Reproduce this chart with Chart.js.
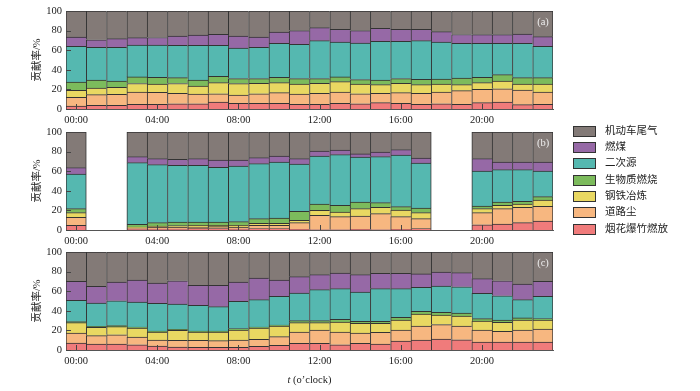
<!DOCTYPE html>
<html><head><meta charset="utf-8">
<script src="https://cdn.jsdelivr.net/npm/chart.js@4.4.1/dist/chart.umd.min.js"></script>
<style>
html,body{margin:0;padding:0;background:#fff;}
body{width:700px;height:391px;position:relative;overflow:hidden;}
.pane{position:absolute;left:0;width:700px;}
#legend{position:absolute;left:0;top:0;font-family:"Liberation Serif","Noto Sans CJK SC";font-size:10.5px;color:#222;}
.item{position:absolute;left:573px;height:12px;white-space:nowrap;}
.sw{position:absolute;left:0;top:0;width:21px;height:9px;border:1px solid #333;}
.lb{position:absolute;left:32px;top:-2px;line-height:14px;}
</style></head>
<body>
<div class="pane" style="top:0;height:135px"><canvas id="ca" width="700" height="135"></canvas></div>
<div class="pane" style="top:121px;height:135px"><canvas id="cb" width="700" height="135"></canvas></div>
<div class="pane" style="top:241px;height:150px"><canvas id="cc" width="700" height="150"></canvas></div>
<div id="legend"></div>
<script>
const hours = ["00:00","01:00","02:00","03:00","04:00","05:00","06:00","07:00","08:00","09:00","10:00","11:00",
  "12:00","13:00","14:00","15:00","16:00","17:00","18:00","19:00","20:00","21:00","22:00","23:00"];
const seriesNames = ["机动车尾气","燃煤","二次源","生物质燃烧","钢铁冶炼","道路尘","烟花爆竹燃放"];
const seriesColors = ["#837a77","#9669a6","#55b8b0","#7cbb5c","#e9d862","#f7b780","#f07b7b"];
const panelTags = ["(a)","(b)","(c)"];
const yTitle = "贡献率/%";
const xTitleItalic = "t";
const xTitleRest = " (o’clock)";

// Panel (a)
const a_fireworks = [3,3.7,3.7,4.8,4.8,5.4,5.4,7.1,5.8,5.8,5.8,4.8,4.8,5.8,5.4,6.5,5.8,4.8,5.4,4.8,6.5,7.1,4.4,4.8];
const a_roadDust  = [9.0,10.9,11.3,12.5,12.2,10.6,9.9,8.5,8.5,9.8,10.9,10.5,11.2,11.5,10.2,9.5,10.9,11.2,11.9,13.9,13.5,13.6,15.0,12.5];
const a_steel     = [7.0,6.8,7.0,8.7,8.5,10.0,8.2,11.3,11.6,10.6,10.2,10.2,10.2,10.6,9.9,8.8,9.5,8.8,8.2,6.1,6.9,7.9,6.1,8.2];
const a_biomass   = [8.5,8.2,6.6,6.7,6.8,6.0,6.1,6.4,5.1,4.8,5.4,5.5,4.8,4.8,4.5,4.8,4.8,5.5,5.1,6.8,5.4,6.4,6.5,6.5];
const a_secondary = [36.5,33.4,34.4,32.6,33.0,33.0,35.4,31.7,31.2,32.0,34.7,35.0,38.7,35.7,37.3,39.4,38.0,39.4,37.8,35.4,34.7,32.0,35.0,32.0];
const a_coal      = [9.5,7.7,8.8,7.5,7.7,9.5,10.5,11.2,12.3,10.5,11.6,14.0,13.3,12.9,12.7,13.3,12.3,11.6,10.5,9.0,8.9,8.9,9.5,9.8];
const a_vehicle   = [26.5,29.3,28.2,27.2,27.0,25.5,24.5,23.8,25.5,26.5,21.4,20.0,17.0,18.7,20.0,17.7,18.7,18.7,21.1,24.0,24.1,24.1,23.5,26.2];

// Panel (b)
const b_fireworks = [4.8,null,null,1.0,1.0,1.0,1.4,1.4,1.0,1.4,1.4,0.7,0.3,0.3,0.7,0.3,0.7,1.4,null,null,5.4,6.1,7.5,9.2];
const b_roadDust  = [8.1,null,null,0.7,1.7,1.7,1.6,2.0,2.0,3.4,3.4,6.8,14.7,13.3,13.6,16.4,12.9,10.2,null,null,12.3,15.7,15.6,14.9];
const b_steel     = [4.8,null,null,1.3,1.3,1.7,1.8,1.4,1.8,2.0,2.0,2.4,5.0,4.8,7.5,6.4,6.8,6.1,null,null,4.1,3.4,3.4,6.5];
const b_biomass   = [4.1,null,null,2.8,3.5,3.8,3.4,3.4,3.7,4.8,5.4,9.1,6.5,6.8,6.8,4.8,3.4,4.7,null,null,2.7,3.4,2.8,3.4];
const b_secondary = [35.2,null,null,62.9,59.2,57.8,57.8,55.8,56.8,56.1,57.2,48.3,49.0,51.7,45.9,46.9,52.7,46.0,null,null,35.7,33.0,32.3,26.2];
const b_coal      = [6.6,null,null,6.1,6.1,6.1,6.8,7.4,6.1,6.1,6.1,5.5,5.1,4.7,3.1,4.8,5.5,5.1,null,null,12.6,7.8,7.8,9.2];
const b_vehicle   = [36.4,null,null,25.2,27.2,27.9,27.2,28.6,28.6,26.2,24.5,27.2,19.4,18.4,22.4,20.4,18.0,26.5,null,null,27.2,30.6,30.6,30.6];

// Panel (c)
const c_fireworks = [7.1,6.1,6.1,5.4,4.1,3.0,2.7,2.7,2.7,3.7,4.8,6.8,6.8,5.4,6.8,6.1,9.2,10.2,11.2,10.5,8.2,8.2,8.2,8.2];
const c_roadDust  = [10.2,8.5,9.5,7.9,6.1,6.9,7.2,6.8,7.5,7.2,8.8,11.6,13.6,13.0,10.5,11.9,11.2,14.3,14.7,14.0,12.2,10.8,12.2,13.2];
const c_steel     = [10.6,8.5,8.2,9.1,8.2,10.1,8.5,8.9,10.2,11.5,10.9,9.5,7.5,10.2,9.9,9.2,10.2,12.2,9.8,10.2,9.2,9.2,10.2,9.2];
const c_biomass   = [1.0,1.0,1.0,1.1,1.0,1.0,1.0,1.0,1.4,1.1,1.0,2.0,2.0,2.7,2.1,2.1,2.7,2.8,2.7,3.0,2.4,2.4,2.1,1.4];
const c_secondary = [21.8,23.9,25.5,25.5,28.2,25.9,26.2,24.8,27.9,27.9,29.3,28.3,31.7,31.3,29.9,33.3,29.3,24.4,26.9,26.8,25.8,24.8,18.7,22.8];
const c_coal      = [19.3,17.0,19.1,22.4,20.8,23.8,20.4,21.8,19.7,22.1,16.6,16.6,15.3,16.0,17.7,15.6,15.6,13.7,14.3,14.4,15.0,15.3,15.9,15.2];
const c_vehicle   = [30.0,35.0,30.6,28.6,31.6,29.3,34.0,34.0,30.6,26.5,28.6,25.2,23.1,21.4,23.1,21.8,21.8,22.4,20.4,21.1,27.2,29.3,32.7,30.0];

const panels = [
  [a_vehicle,a_coal,a_secondary,a_biomass,a_steel,a_roadDust,a_fireworks],
  [b_vehicle,b_coal,b_secondary,b_biomass,b_steel,b_roadDust,b_fireworks],
  [c_vehicle,c_coal,c_secondary,c_biomass,c_steel,c_roadDust,c_fireworks]
];

const SERIF = '"Liberation Serif", "Noto Sans CJK SC", serif';

// legend (HTML)
const leg = document.getElementById('legend');
seriesNames.forEach((n,i)=>{
  const it = document.createElement('div');
  it.className='item';
  it.style.top = (125.7 + i*16.33) + 'px';
  it.innerHTML = '<div class="sw" style="background:'+seriesColors[i]+'"></div><div class="lb">'+n+'</div>';
  leg.appendChild(it);
});

function bw(ctx){
  const d = ctx.dataset.data, i = ctx.dataIndex;
  const last = (i === d.length-1) || d[i+1] == null;
  return {top:1,left:1,bottom:0,right:last?1:0};
}

const tickMarks = {
  id:'tickMarks',
  afterDatasetsDraw(chart, args, opts){
    const ctx = chart.ctx, xs = chart.scales.x, ys = chart.scales.y;
    ctx.save();
    ctx.strokeStyle = '#444'; ctx.lineWidth = 1;
    ctx.beginPath();
    ys.ticks.forEach((t,i)=>{
      const py = Math.round(ys.getPixelForTick(i)) + 0.5;
      ctx.moveTo(xs.left, py); ctx.lineTo(xs.left+5, py);
    });
    xs.ticks.forEach((t,i)=>{
      if (i % 4) return;
      const px = Math.round(xs.getPixelForTick(i)) + 0.5;
      ctx.moveTo(px, ys.bottom); ctx.lineTo(px, ys.bottom-5);
    });
    ctx.stroke();
    // panel tag
    ctx.fillStyle = '#eeeeee';
    ctx.font = '10.5px ' + SERIF;
    ctx.textAlign = 'center'; ctx.textBaseline = 'middle';
    ctx.fillText(opts.tag, chart.chartArea.right - 10, chart.chartArea.top + 11);
    // x title
    if (opts.xTitle) {
      const cx = (chart.chartArea.left + chart.chartArea.right)/2;
      const cy = chart.chartArea.bottom + 30;
      ctx.fillStyle = '#222';
      ctx.textAlign = 'left';
      ctx.font = 'italic 10.5px ' + SERIF;
      const w1 = ctx.measureText(xTitleItalic).width;
      ctx.font = '10.5px ' + SERIF;
      const w2 = ctx.measureText(xTitleRest).width;
      const x0 = cx - (w1+w2)/2;
      ctx.font = 'italic 10.5px ' + SERIF;
      ctx.fillText(xTitleItalic, x0, cy);
      ctx.font = '10.5px ' + SERIF;
      ctx.fillText(xTitleRest, x0 + w1, cy);
    }
    ctx.restore();
  }
};

function makeChart(id, k, H, withTitle){
  const data = panels[k];
  // bottom of stack first: fireworks ... vehicle on top
  const idx = [6,5,4,3,2,1,0];
  new Chart(document.getElementById(id), {
    type:'bar',
    data:{
      labels: hours,
      datasets: idx.map(i=>({
        label:seriesNames[i], data:data[i], backgroundColor:seriesColors[i], borderColor:'#333',
        borderWidth: bw, borderSkipped:false, categoryPercentage:1, barPercentage:1
      }))
    },
    options:{
      responsive:false, animation:false, devicePixelRatio:1,
      layout:{padding:{left:31,right:147,top:11,bottom:H-11-98-21}},
      plugins:{legend:{display:false}, tooltip:{enabled:false}, tickMarks:{tag:panelTags[k], xTitle:withTitle}},
      scales:{
        x:{stacked:true,
           grid:{display:false, drawTicks:false},
           border:{display:true,color:'#555',width:1},
           ticks:{autoSkip:false,maxRotation:0,padding:5,color:'#222',font:{family:SERIF,size:10.5},
                  callback:(v,i)=> i%4===0 ? hours[i] : ''},
           afterFit:(s)=>{s.height=21;}
        },
        y:{stacked:true,min:0,max:100,
           grid:{display:false, drawTicks:false},
           border:{display:true,color:'#555',width:1},
           ticks:{stepSize:20,padding:4,color:'#222',font:{family:SERIF,size:10.5}},
           title:{display:true,text:yTitle,padding:0,color:'#222',font:{family:SERIF,size:10.5}},
           afterFit:(s)=>{s.width=35;}
        }
      }
    },
    plugins:[tickMarks]
  });
}
makeChart('ca',0,135,false);
makeChart('cb',1,135,false);
makeChart('cc',2,150,true);
</script>
</body></html>
